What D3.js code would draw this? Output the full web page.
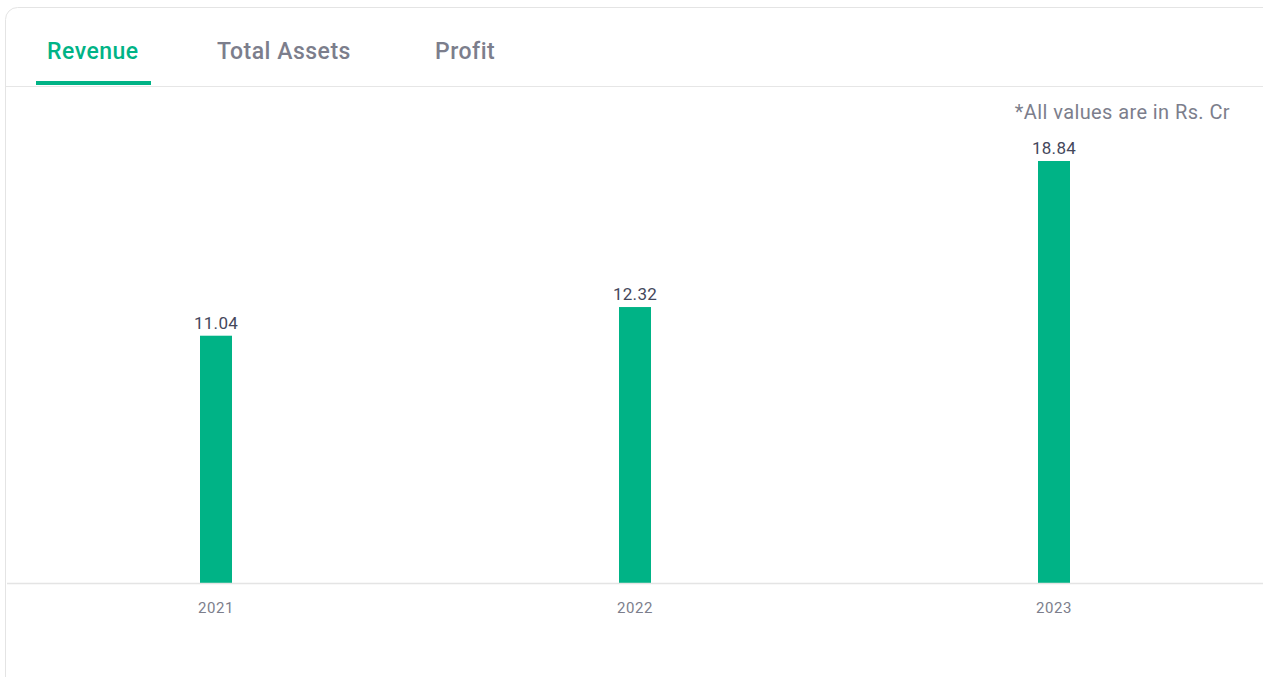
<!DOCTYPE html>
<html>
<head>
<meta charset="utf-8">
<script src="https://cdn.jsdelivr.net/npm/d3@7"></script>
<style>
  html, body { margin: 0; padding: 0; background: #fff; }
  svg { display: block; }
</style>
</head>
<body>
<svg id="chart" width="1263" height="677"></svg>
<script>
// Annual revenue figures (Rs. Cr)
const years = ["2021", "2022", "2023"];
const revenue = [11.04, 12.32, 18.84];
const tabs = ["Revenue", "Total Assets", "Profit"];
const tabX = [47, 217, 435];
const footnote = "*All values are in Rs. Cr";

const W = 1263, H = 677;
const green = "#00b386";
const font = "Roboto, 'Noto Sans', sans-serif";

const svg = d3.select("#chart");

// Card outline
svg.append("rect")
  .attr("x", 5.5).attr("y", 7.5)
  .attr("width", W + 20).attr("height", H + 20)
  .attr("rx", 12)
  .attr("fill", "#fff")
  .attr("stroke", "#e4e4e4");

// Tab strip
svg.append("line")
  .attr("x1", 6).attr("x2", W)
  .attr("y1", 86.5).attr("y2", 86.5)
  .attr("stroke", "#e6e6e6");

svg.selectAll("text.tab")
  .data(tabs)
  .join("text")
  .attr("class", "tab")
  .attr("x", (d, i) => tabX[i])
  .attr("y", 59)
  .attr("font-family", font)
  .attr("font-size", 23)
  .attr("letter-spacing", 0.5)
  .attr("font-weight", 500)
  .attr("fill", (d, i) => i === 0 ? green : "#7c7e8c")
  .text(d => d);

svg.append("rect")
  .attr("x", 36).attr("y", 81)
  .attr("width", 115).attr("height", 4)
  .attr("fill", green);

svg.append("text")
  .attr("x", 1230).attr("y", 119)
  .attr("text-anchor", "end")
  .attr("font-family", font)
  .attr("font-size", 20)
  .attr("letter-spacing", 0.4)
  .attr("fill", "#7c7e8c")
  .text(footnote);

// Scales
const x = d3.scaleBand().domain(years).range([6.5, W + 0.5]);
const y = d3.scaleLinear().domain([0, d3.max(revenue)]).range([583, 161]);
const barW = 32;

const data = years.map((yr, i) => ({ year: yr, value: revenue[i] }));

svg.selectAll("rect.bar")
  .data(data)
  .join("rect")
  .attr("class", "bar")
  .attr("x", d => x(d.year) + x.bandwidth() / 2 - barW / 2)
  .attr("y", d => y(d.value))
  .attr("width", barW)
  .attr("height", d => y(0) - y(d.value))
  .attr("fill", green);

svg.selectAll("text.val")
  .data(data)
  .join("text")
  .attr("class", "val")
  .attr("x", d => x(d.year) + x.bandwidth() / 2)
  .attr("y", d => y(d.value) - 7)
  .attr("text-anchor", "middle")
  .attr("font-family", font)
  .attr("font-size", 17)
  .attr("letter-spacing", 0.3)
  .attr("fill", "#44475b")
  .text(d => d.value.toFixed(2));

// Baseline axis
const axis = svg.append("g")
  .attr("transform", `translate(0,${y(0)})`)
  .call(d3.axisBottom(x).tickSize(0).tickPadding(19));
axis.select(".domain").attr("stroke", "#e4e4e4").attr("stroke-width", 1.5);
axis.selectAll("text")
  .attr("font-family", font)
  .attr("font-size", 15)
  .attr("letter-spacing", 0.6)
  .attr("fill", "#7c7e8c");
</script>
</body>
</html>
